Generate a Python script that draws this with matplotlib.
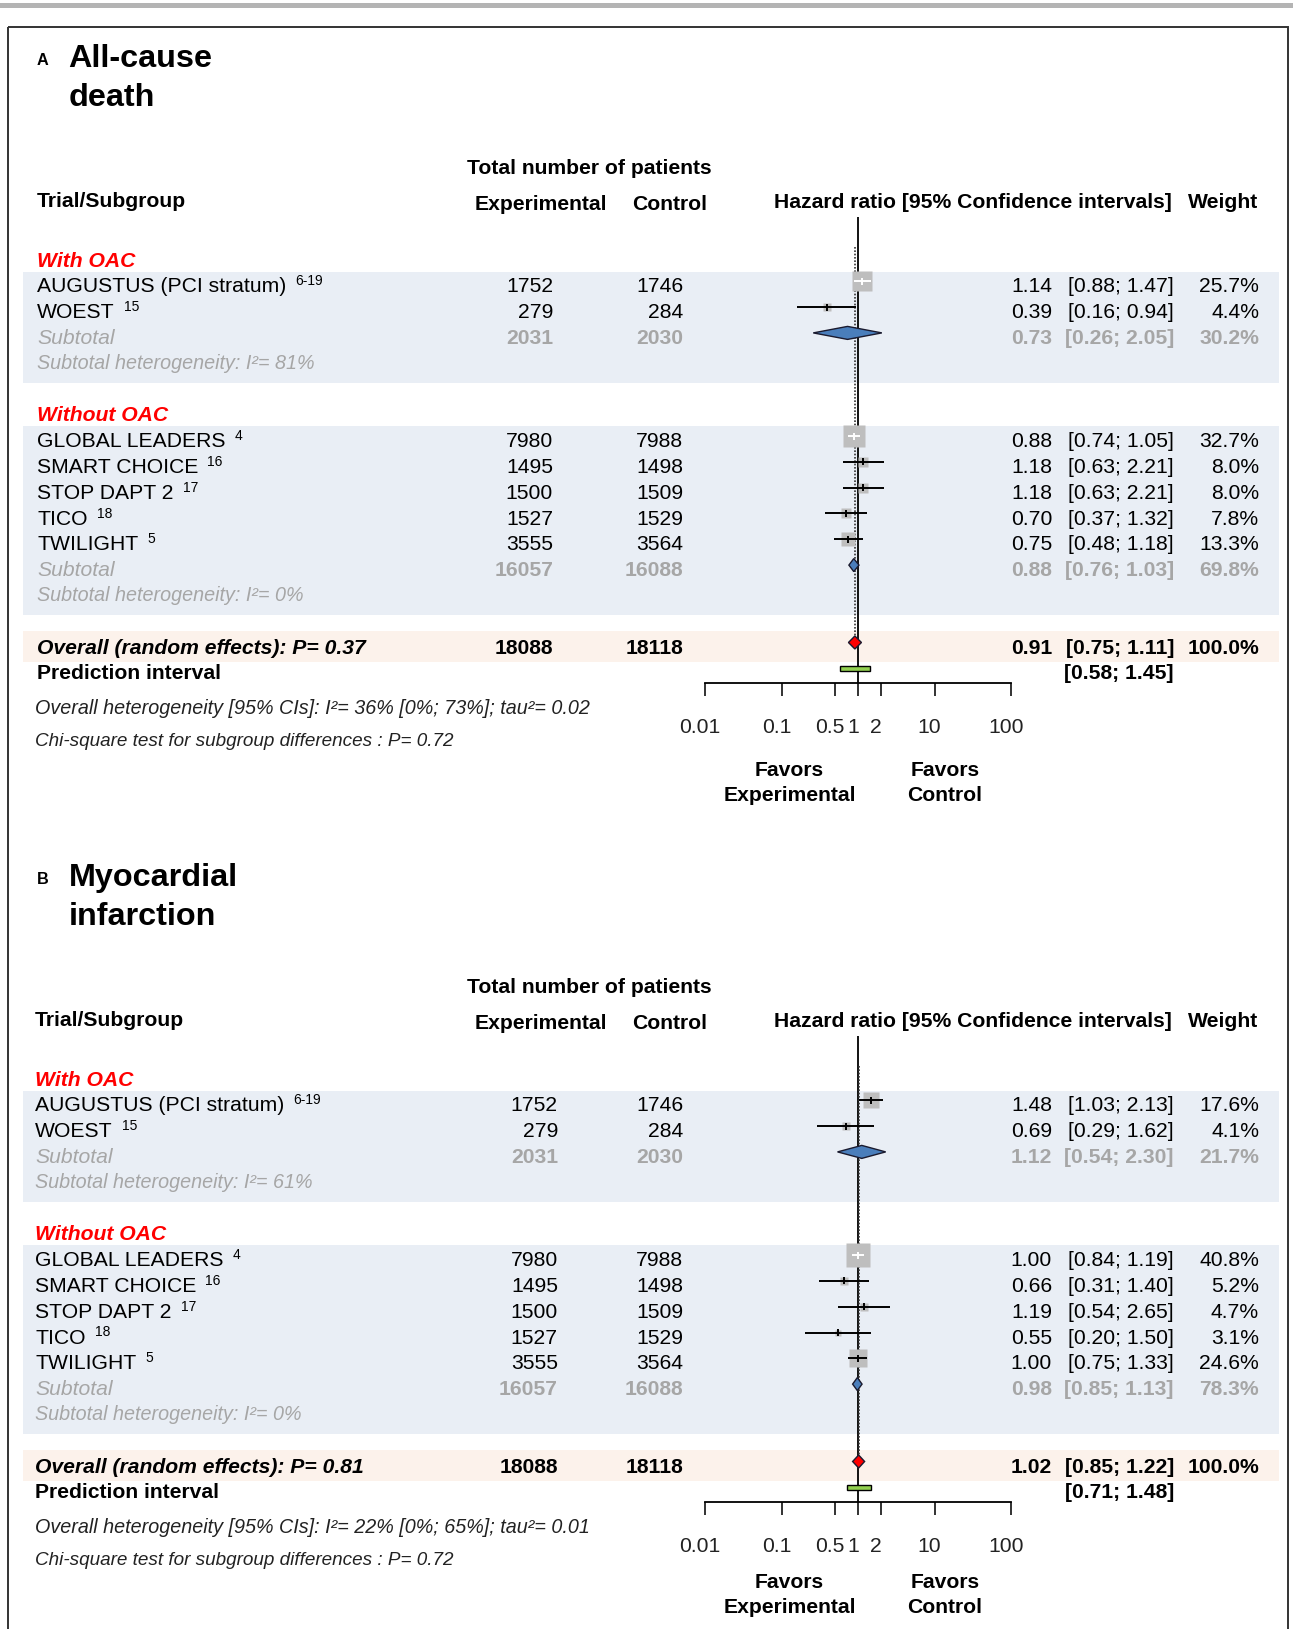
import matplotlib.pyplot as plt
from matplotlib.patches import Rectangle, Polygon
from matplotlib.ticker import NullLocator
from matplotlib.transforms import ScaledTranslation
import numpy as np

plt.rcParams['font.family'] = ['Liberation Sans', 'DejaVu Sans']

# ---- data ----
trials = ["AUGUSTUS (PCI stratum)", "WOEST", "GLOBAL LEADERS", "SMART CHOICE",
          "STOP DAPT 2", "TICO", "TWILIGHT"]
refs = ["6-19", "15", "4", "16", "17", "18", "5"]
groups = ["With OAC", "Without OAC"]
group_size = [2, 5]
n_exp = [1752, 279, 7980, 1495, 1500, 1527, 3555]
n_ctl = [1746, 284, 7988, 1498, 1509, 1529, 3564]

# A: all-cause death
death_hr = [1.14, 0.39, 0.88, 1.18, 1.18, 0.70, 0.75]
death_lo = [0.88, 0.16, 0.74, 0.63, 0.63, 0.37, 0.48]
death_hi = [1.47, 0.94, 1.05, 2.21, 2.21, 1.32, 1.18]
death_w = [25.7, 4.4, 32.7, 8.0, 8.0, 7.8, 13.3]
death_sub_hr = [0.73, 0.88]
death_sub_lo = [0.26, 0.76]
death_sub_hi = [2.05, 1.03]
death_sub_w = [30.2, 69.8]
death_sub_i2 = [81, 0]
death_overall = [0.91, 0.75, 1.11]
death_p = 0.37
death_pred = [0.58, 1.45]
death_het = "I\u00b2= 36% [0%; 73%]; tau\u00b2= 0.02"

# B: myocardial infarction
mi_hr = [1.48, 0.69, 1.00, 0.66, 1.19, 0.55, 1.00]
mi_lo = [1.03, 0.29, 0.84, 0.31, 0.54, 0.20, 0.75]
mi_hi = [2.13, 1.62, 1.19, 1.40, 2.65, 1.50, 1.33]
mi_w = [17.6, 4.1, 40.8, 5.2, 4.7, 3.1, 24.6]
mi_sub_hr = [1.12, 0.98]
mi_sub_lo = [0.54, 0.85]
mi_sub_hi = [2.30, 1.13]
mi_sub_w = [21.7, 78.3]
mi_sub_i2 = [61, 0]
mi_overall = [1.02, 0.85, 1.22]
mi_p = 0.81
mi_pred = [0.71, 1.48]
mi_het = "I\u00b2= 22% [0%; 65%]; tau\u00b2= 0.01"

chi_p = 0.72

ticks = [0.01, 0.1, 0.5, 1, 2, 10, 100]
tick_labels = ["0.01", "0.1", "0.5", "1", "2", "10", "100"]

# ---- style ----
W, H = 1293, 1629
FS = 15.2
GRAY = '#A6A6A6'
BAND = '#E9EEF5'
PEACH = '#FCF2EB'
SQ = '#BEBEBE'
BLUE = '#4A7EBB'

fig = plt.figure(figsize=(W / 100, H / 100), dpi=100)
bg = fig.add_axes([0, 0, 1, 1])
bg.set_xlim(0, W)
bg.set_ylim(H, 0)
bg.axis('off')
renderer = fig.canvas.get_renderer()

bg.add_patch(Rectangle((0, 3), W, 5, facecolor='#B4B4B4', edgecolor='none'))
bg.add_patch(Rectangle((8, 27), 1280, 1700, facecolor='none', edgecolor='#333333', lw=1.4))


def txt(x, yc, s, size=FS, **kw):
    # place text so that cap-height centre sits on yc
    return bg.text(x, yc + size / 0.72 * 0.358, s, fontsize=size, va='baseline', **kw)


def ci(lo, hi):
    return f"[{lo:.2f}; {hi:.2f}]"


def panel(dy, letter, title, hr, lo, hi, w, s_hr, s_lo, s_hi, s_w, s_i2,
          ov, p_ov, pred, het, xn=37, xe=553, fav_dy=0):
    xc, xw, xest, xci = 683, 1259, 1052, 1174
    row = lambda i: 259 + 25.8 * i + dy

    # titles
    bg.text(37, 65 + dy, letter, fontsize=11.7, fontweight='bold', va='baseline')
    bg.text(68.5, 67 + dy, title[0], fontsize=23.3, fontweight='bold', va='baseline')
    bg.text(68.5, 106 + dy, title[1], fontsize=23.3, fontweight='bold', va='baseline')

    # headers
    txt(589, 166 + dy, "Total number of patients", fontweight='bold', ha='center')
    txt(xn, 199.5 + dy, "Trial/Subgroup", fontweight='bold')
    txt(541, 202.5 + dy, "Experimental", fontweight='bold', ha='center')
    txt(670, 202.5 + dy, "Control", fontweight='bold', ha='center')
    txt(1172, 200.5 + dy, "Hazard ratio [95% Confidence intervals]", fontweight='bold', ha='right')
    txt(1258, 200.5 + dy, "Weight", fontweight='bold', ha='right')

    # forest axes, y data = pixel rows
    fa = fig.add_axes([705 / W, 1 - (683 + dy) / H, 306 / W, 466 / H])
    fa.set_xscale('log')
    fa.set_xlim(0.01, 100)
    fa.set_ylim(683 + dy, 217 + dy)
    fa.patch.set_visible(False)
    for s in ['top', 'left', 'right']:
        fa.spines[s].set_visible(False)
    fa.spines['bottom'].set_linewidth(1.3)
    fa.set_yticks([])
    fa.set_xticks(ticks)
    fa.set_xticklabels(tick_labels)
    fa.xaxis.set_minor_locator(NullLocator())
    fa.tick_params(axis='x', length=9.5, width=1.3, pad=15.5, labelsize=FS, colors='#222222')
    shift = ScaledTranslation(-5 / 100, 0, fig.dpi_scale_trans)
    for lab in fa.get_xticklabels():
        lab.set_transform(lab.get_transform() + shift)
    fa.axvline(1, color='black', lw=1.3, zorder=1)
    dec_px = 306 / 4

    def diamond(est, l, h, y, color):
        fa.add_patch(Polygon([(l, y), (est, y - 6.5), (h, y), (est, y + 6.5)], closed=True,
                             facecolor=color, edgecolor='#1A1A2E', lw=1.0, zorder=4, clip_on=False))

    idx, k = 0, 0
    for g, size in enumerate(group_size):
        het_row = idx + size + 2
        bg.add_patch(Rectangle((23, row(idx + 1) - 13.2), 1256, row(het_row) - row(idx + 1) + 33.9,
                               facecolor=BAND, edgecolor='none', zorder=0))
        txt(xn, row(idx), groups[g], color='#FF0000', fontweight='bold', style='italic')
        for j in range(size):
            y = row(idx + 1 + j)
            t = txt(xn, y, trials[k])
            bb = t.get_window_extent(renderer)
            bg.text(bb.x1 + 9, y + 0.5, refs[k], fontsize=10, va='baseline')
            txt(xe, y, str(n_exp[k]), ha='right')
            txt(xc, y, str(n_ctl[k]), ha='right')
            txt(xest, y, f"{hr[k]:.2f}", ha='right')
            txt(xci, y, ci(lo[k], hi[k]), ha='right')
            txt(xw, y, f"{w[k]:.1f}%", ha='right')
            ym = y - 3.5
            side = 3.8 * np.sqrt(w[k])
            half = side / 2 / dec_px
            inside = (np.log10(lo[k]) > np.log10(hr[k]) - half) and (np.log10(hi[k]) < np.log10(hr[k]) + half)
            lc = 'white' if inside else 'black'
            fa.plot([hr[k]], [ym], marker='s', ms=side * 0.72, color=SQ, mec='none', ls='none', zorder=2)
            fa.hlines(ym, lo[k], hi[k], color=lc, lw=1.4, zorder=3)
            fa.vlines(hr[k], ym - 3.5, ym + 3.5, color=lc, lw=1.4, zorder=3)
            k += 1
        # subtotal
        y = row(idx + size + 1)
        txt(xn, y, "Subtotal", color=GRAY, style='italic')
        txt(xe, y, str(sum(n_exp[k - size:k])), ha='right', color=GRAY, fontweight='bold')
        txt(xc, y, str(sum(n_ctl[k - size:k])), ha='right', color=GRAY, fontweight='bold')
        txt(xest, y, f"{s_hr[g]:.2f}", ha='right', color=GRAY, fontweight='bold')
        txt(xci, y, ci(s_lo[g], s_hi[g]), ha='right', color=GRAY, fontweight='bold')
        txt(xw, y, f"{s_w[g]:.1f}%", ha='right', color=GRAY, fontweight='bold')
        diamond(s_hr[g], s_lo[g], s_hi[g], y - 3.5, BLUE)
        txt(xn, row(het_row), f"Subtotal heterogeneity: I\u00b2= {s_i2[g]}%", size=14.2,
            color=GRAY, style='italic')
        idx += size + 4

    # overall
    y = row(idx)
    bg.add_patch(Rectangle((23, y - 15.5), 1256, 31, facecolor=PEACH, edgecolor='none', zorder=0))
    txt(xn, y, f"Overall (random effects): P= {p_ov:.2f}", fontweight='bold', style='italic')
    txt(xe, y, str(sum(n_exp)), ha='right', fontweight='bold')
    txt(xc, y, str(sum(n_ctl)), ha='right', fontweight='bold')
    txt(xest, y, f"{ov[0]:.2f}", ha='right', fontweight='bold')
    txt(xci, y, ci(ov[1], ov[2]), ha='right', fontweight='bold')
    txt(xw, y, "100.0%", ha='right', fontweight='bold')
    diamond(ov[0], ov[1], ov[2], y - 3.5, '#FF0000')
    fa.vlines(ov[0], 247 + dy, y - 3.5, color='#333333', lw=1.2, linestyles=(0, (1, 1)), zorder=1)

    # prediction interval
    y = row(idx + 1)
    txt(xn, y, "Prediction interval", fontweight='bold')
    txt(xci, y, ci(pred[0], pred[1]), ha='right', fontweight='bold')
    fa.add_patch(Rectangle((pred[0], y - 3.5 - 2.5), pred[1] - pred[0], 5, facecolor='#92D050',
                           edgecolor='black', lw=1.0, zorder=4, clip_on=False))

    txt(35, 706.5 + dy, "Overall heterogeneity [95% CIs]: " + het, size=14.2, style='italic', color='#222222')
    txt(35, 739 + dy, f"Chi-square test for subgroup differences : P= {chi_p:.2f}", size=13.6,
        style='italic', color='#222222')

    txt(789.5, 768 + dy + fav_dy, "Favors", fontweight='bold', ha='center')
    txt(789.5, 793 + dy + fav_dy, "Experimental", fontweight='bold', ha='center')
    txt(945, 768 + dy + fav_dy, "Favors", fontweight='bold', ha='center')
    txt(945, 793 + dy + fav_dy, "Control", fontweight='bold', ha='center')


panel(0, "A", ["All-cause", "death"], death_hr, death_lo, death_hi, death_w,
      death_sub_hr, death_sub_lo, death_sub_hi, death_sub_w, death_sub_i2,
      death_overall, death_p, death_pred, death_het)
panel(819, "B", ["Myocardial", "infarction"], mi_hr, mi_lo, mi_hi, mi_w,
      mi_sub_hr, mi_sub_lo, mi_sub_hi, mi_sub_w, mi_sub_i2,
      mi_overall, mi_p, mi_pred, mi_het, xn=35, xe=558, fav_dy=-7)

fig.savefig("out.png", dpi=100)
